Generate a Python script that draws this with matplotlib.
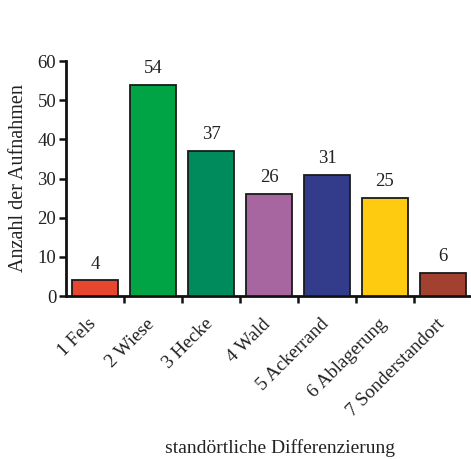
import matplotlib
matplotlib.use("Agg")
import matplotlib.pyplot as plt
import matplotlib.transforms as mtransforms
import numpy as np

categories = ["1 Fels", "2 Wiese", "3 Hecke", "4 Wald", "5 Ackerrand", "6 Ablagerung", "7 Sonderstandort"]
values = [4, 54, 37, 26, 31, 25, 6]
colors = ["#E8472F", "#00A444", "#008B5C", "#A766A0", "#323C8A", "#FFCB10", "#A2412F"]
yticks = [0, 10, 20, 30, 40, 50, 60]

plt.rcParams['font.family'] = ['Liberation Serif', 'DejaVu Serif']
txt = "#222222"

fig = plt.figure(figsize=(4.71, 4.59), dpi=100)
ax = fig.add_axes([0.140, 0.355, 0.862, 0.512])

x = np.arange(len(categories))
ax.bar(x, values, width=0.8, color=colors, edgecolor="#1a1a1a", linewidth=1.3, zorder=3)
for xi, v in zip(x, values):
    ax.text(xi, v + 2.0, str(v), ha="center", va="bottom", fontsize=13.5, color=txt)

ax.set_xlim(-0.5, len(categories) - 0.5)
ax.set_ylim(0, 60)
ax.set_yticks(yticks)
ax.set_yticklabels([str(t) for t in yticks], fontsize=13.5, color=txt)
ax.set_xticks(x)
ax.set_xticklabels(categories, rotation=45, ha="right", rotation_mode="anchor", fontsize=13.8, color=txt)
ax.set_xticks(np.arange(len(categories)) + 0.5, minor=True)
ax.tick_params(axis="x", which="major", length=0, pad=14)
ax.tick_params(axis="x", which="minor", length=5, width=1.8, direction="out", color="#111")
ax.tick_params(axis="y", length=5, width=1.8, direction="out", color="#111", pad=2)
offset = mtransforms.ScaledTranslation(-7 / 100, 0, fig.dpi_scale_trans)
for lab in ax.get_xticklabels():
    lab.set_transform(lab.get_transform() + offset)

for s in ["top", "right"]:
    ax.spines[s].set_visible(False)
for s in ["left", "bottom"]:
    ax.spines[s].set_linewidth(2.0)
    ax.spines[s].set_color("#111")

ax.set_ylabel("Anzahl der Aufnahmen", fontsize=14.5, color=txt, labelpad=7)
fig.text(0.595, 0.004, "standörtliche Differenzierung", ha="center", va="bottom", fontsize=14, color=txt)

fig.savefig("out.png", dpi=100)
